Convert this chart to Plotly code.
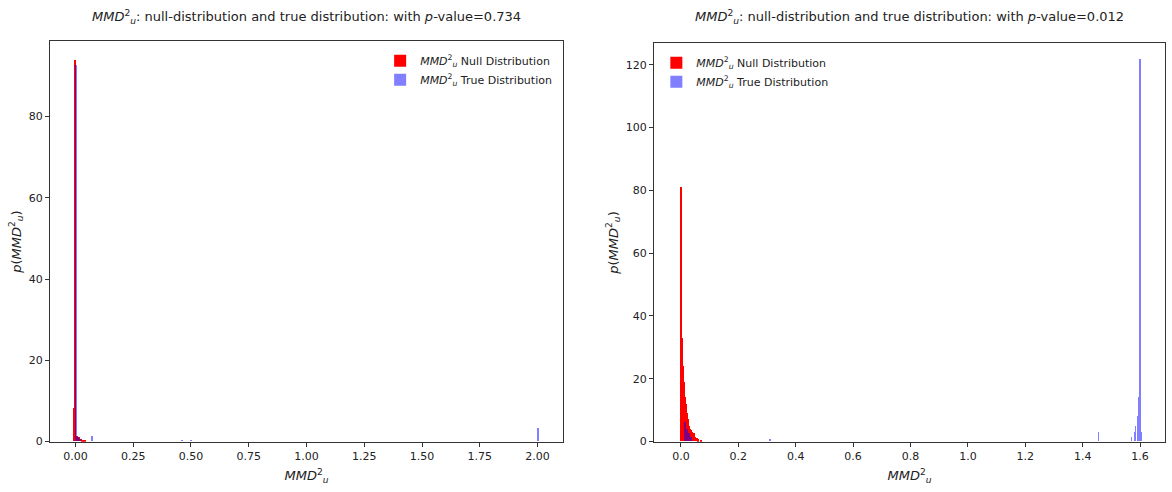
import plotly.graph_objects as go

# ---- data ----
left_null_x = [-0.006, 0.0, 0.008, 0.016, 0.024, 0.032, 0.040]
left_null_y = [8.2, 93.8, 1.4, 1.0, 0.6, 0.4, 0.2]
left_true_x = [0.004, 0.012, 0.020, 0.070, 0.46, 0.50, 2.0]
left_true_y = [92.5, 1.0, 0.5, 1.3, 0.2, 0.2, 3.2]

right_null_x = [0.0, 0.0035, 0.007, 0.0105, 0.014, 0.0175, 0.021, 0.0245, 0.028,
                0.0315, 0.035, 0.04, 0.045, 0.05, 0.055, 0.06, 0.07]
right_null_y = [81, 33, 24, 19, 14, 12, 9, 7, 5, 4, 3.5, 3, 2.5, 1.5, 1, 0.6, 0.3]
right_true_x = [0.014, 0.021, 0.028, 0.035, 0.31, 1.455, 1.57, 1.58, 1.585, 1.59,
                1.595, 1.6, 1.605]
right_true_y = [6, 4, 2.5, 1.5, 0.8, 3.0, 1.5, 3, 5, 8, 14, 121.8, 3]

left_xticks = [0, 0.25, 0.5, 0.75, 1.0, 1.25, 1.5, 1.75, 2.0]
right_xticks = [0.0, 0.2, 0.4, 0.6, 0.8, 1.0, 1.2, 1.4, 1.6]
left_yticks = [0, 20, 40, 60, 80]
right_yticks = [0, 20, 40, 60, 80, 100, 120]

p_left = 0.734
p_right = 0.012

MMD = "<i>MMD</i><sup>2</sup><sub><i>u</i></sub>"
RED = "rgb(255,0,0)"
BLUE = "rgba(0,0,255,0.5)"
FONT = "DejaVu Sans"
TXT = "#222222"

fig = go.Figure()
fig.add_trace(go.Bar(x=left_null_x, y=left_null_y, width=0.008, marker=dict(color=RED, line=dict(width=0)),
                     name=MMD + " Null Distribution", xaxis="x", yaxis="y", legend="legend"))
fig.add_trace(go.Bar(x=left_true_x, y=left_true_y, width=0.008, marker=dict(color=BLUE, line=dict(width=0)),
                     name=MMD + " True Distribution", xaxis="x", yaxis="y", legend="legend"))
fig.add_trace(go.Bar(x=right_null_x, y=right_null_y, width=0.0045, marker=dict(color=RED, line=dict(width=0)),
                     name=MMD + " Null Distribution", xaxis="x2", yaxis="y2", legend="legend2"))
fig.add_trace(go.Bar(x=right_true_x, y=right_true_y, width=0.0045, marker=dict(color=BLUE, line=dict(width=0)),
                     name=MMD + " True Distribution", xaxis="x2", yaxis="y2", legend="legend2"))

W, H = 1172, 492
Lx0, Lx1 = 50 / W, 563 / W
Rx0, Rx1 = 654 / W, 1165 / W
Ly0, Ly1 = 1 - 448 / H, 1 - 42 / H
Ry0, Ry1 = 1 - 448 / H, 1 - 44 / H

axis_common = dict(showline=True, linecolor="#333333", linewidth=1, mirror=True, ticks="outside",
                   ticklen=4, tickcolor="#333333", showgrid=False, zeroline=False,
                   tickfont=dict(family=FONT, size=11, color=TXT))

fig.update_layout(
    width=W, height=H, margin=dict(l=0, r=0, t=0, b=0),
    paper_bgcolor="white", plot_bgcolor="white", barmode="overlay", bargap=0,
    font=dict(family=FONT, color=TXT),
    xaxis=dict(domain=[Lx0, Lx1], anchor="y", range=[-0.11, 2.11], tickvals=left_xticks,
               tickformat=".2f", title=dict(text=MMD, font=dict(size=13), standoff=9), **axis_common),
    yaxis=dict(domain=[Ly0, Ly1], anchor="x", range=[0, 98.5], tickvals=left_yticks,
               title=dict(text="<i>p</i>(" + MMD + ")", font=dict(size=13), standoff=4), **axis_common),
    xaxis2=dict(domain=[Rx0, Rx1], anchor="y2", range=[-0.094, 1.687], tickvals=right_xticks,
                tickformat=".1f", title=dict(text=MMD, font=dict(size=13), standoff=9), **axis_common),
    yaxis2=dict(domain=[Ry0, Ry1], anchor="x2", range=[0, 126.8], tickvals=right_yticks,
                title=dict(text="<i>p</i>(" + MMD + ")", font=dict(size=13), standoff=4), **axis_common),
    legend=dict(x=Lx1 - 0.005, xanchor="right", y=Ly1 - 0.01, yanchor="top", bgcolor="rgba(255,255,255,0)",
                font=dict(family=FONT, size=11, color=TXT), tracegroupgap=2),
    legend2=dict(x=Rx0 + 0.002, xanchor="left", y=Ry1 - 0.01, yanchor="top", bgcolor="rgba(255,255,255,0)",
                 font=dict(family=FONT, size=11, color=TXT), tracegroupgap=2),
    annotations=[
        dict(text=MMD + ": null-distribution and true distribution: with <i>p</i>-value=%.3f" % p_left,
             x=(Lx0 + Lx1) / 2, y=1 - 17 / H, xref="paper", yref="paper", showarrow=False,
             xanchor="center", yanchor="middle", font=dict(family=FONT, size=13, color=TXT)),
        dict(text=MMD + ": null-distribution and true distribution: with <i>p</i>-value=%.3f" % p_right,
             x=(Rx0 + Rx1) / 2, y=1 - 17 / H, xref="paper", yref="paper", showarrow=False,
             xanchor="center", yanchor="middle", font=dict(family=FONT, size=13, color=TXT)),
    ],
)

fig.write_html("out.html")
